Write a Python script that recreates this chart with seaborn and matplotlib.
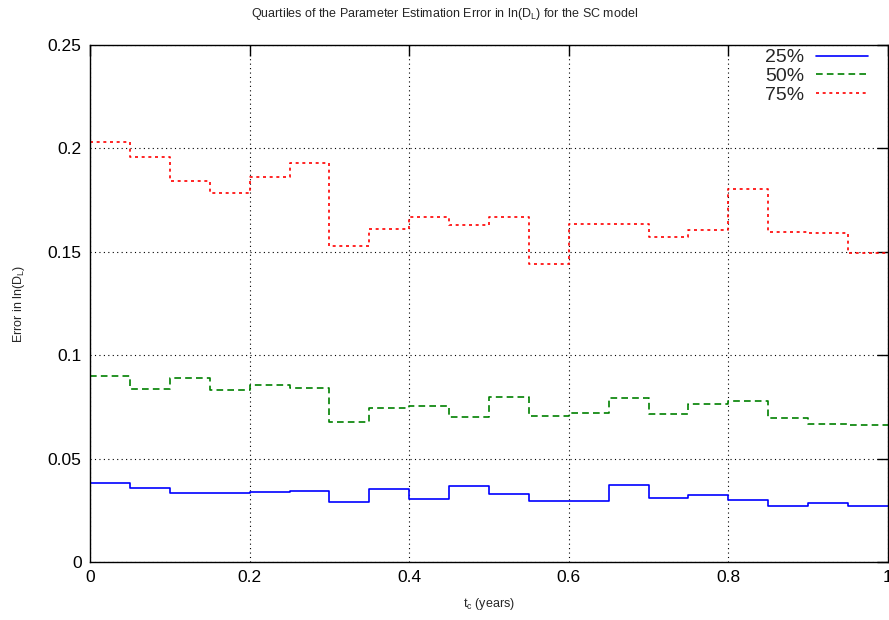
import matplotlib
matplotlib.use("Agg")
import matplotlib.pyplot as plt
import seaborn as sns
import numpy as np
import pandas as pd

# bin edges along t_c (years), 20 bins of 0.05
bin_edges = [0.0, 0.05, 0.1, 0.15, 0.2, 0.25, 0.3, 0.35, 0.4, 0.45, 0.5,
             0.55, 0.6, 0.65, 0.7, 0.75, 0.8, 0.85, 0.9, 0.95, 1.0]

q25 = [0.0384, 0.0356, 0.0335, 0.0336, 0.0337, 0.0345, 0.0292, 0.0352, 0.0303, 0.0369,
       0.0330, 0.0295, 0.0296, 0.0372, 0.0308, 0.0325, 0.0301, 0.0272, 0.0284, 0.0271]
q50 = [0.0901, 0.0838, 0.0888, 0.0833, 0.0856, 0.0843, 0.0678, 0.0746, 0.0756, 0.0703,
       0.0798, 0.0708, 0.0720, 0.0795, 0.0717, 0.0763, 0.0780, 0.0695, 0.0669, 0.0664]
q75 = [0.2030, 0.1960, 0.1840, 0.1786, 0.1860, 0.1928, 0.1530, 0.1610, 0.1670, 0.1630,
       0.1670, 0.1443, 0.1633, 0.1633, 0.1573, 0.1604, 0.1805, 0.1594, 0.1590, 0.1494]

labels = ["25%", "50%", "75%"]
colors = ["#0000ff", "#008000", "#ff0000"]
dashes = ["-", (0, (4, 2.5)), (0, (1.8, 2.2))]

sns.set_style("white")
plt.rcParams["font.family"] = ["Liberation Sans", "DejaVu Sans"]

fig = plt.figure(figsize=(8.89, 6.2), dpi=100)
ax = fig.add_axes([90 / 889, 1 - 562 / 620, 798 / 889, 517 / 620])

for vals, lab, col, ls in zip([q25, q50, q75], labels, colors, dashes):
    df = pd.DataFrame({"t": bin_edges, "err": vals + [vals[-1]]})
    sns.lineplot(data=df, x="t", y="err", ax=ax, color=col, linestyle=ls,
                 linewidth=1.2, drawstyle="steps-post", label=lab)

ax.set_xlim(0, 1)
ax.set_ylim(0, 0.25)
ax.set_xticks([0, 0.2, 0.4, 0.6, 0.8, 1])
ax.set_xticklabels(["0", "0.2", "0.4", "0.6", "0.8", "1"])
ax.set_yticks([0, 0.05, 0.1, 0.15, 0.2, 0.25])
ax.set_yticklabels(["0", "0.05", "0.1", "0.15", "0.2", "0.25"])
ax.tick_params(direction="in", length=8, width=1, labelsize=12.5, top=True, right=True,
               pad=6, colors="black")
ax.grid(True, color="black", linestyle=(0, (1, 3)), linewidth=0.8)
for s in ax.spines.values():
    s.set_color("black")
    s.set_linewidth(1)
    s.set_visible(True)

ax.set_xlabel("t$_\\mathregular{c}$ (years)", fontsize=9, labelpad=8)
ax.set_ylabel("Error in ln(D$_\\mathregular{L}$)", fontsize=9, labelpad=15)
fig.text(0.5, 0.978, "Quartiles of the Parameter Estimation Error in ln(D$_\\mathregular{L}$) for the SC model",
         ha="center", va="center", fontsize=9)

leg = ax.legend(loc="upper right", bbox_to_anchor=(1 - 12 / 798, 1 + 4 / 517),
                frameon=False, fontsize=14, markerfirst=False,
                handlelength=2.7, labelspacing=0.05, borderaxespad=0.1, handletextpad=0.6,
                borderpad=0.3)
for t in leg.get_texts():
    t.set_ha("right")

fig.savefig("out.png", dpi=100)
